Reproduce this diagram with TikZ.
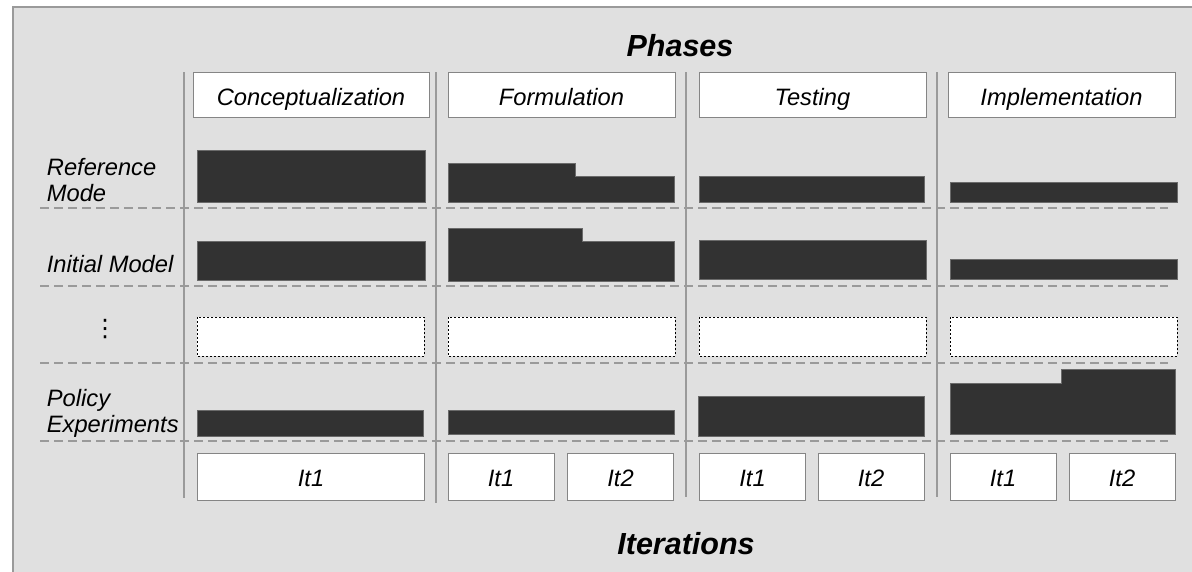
\documentclass[tikz,border=0pt]{standalone}
\usepackage{fontspec}
\setmainfont{Liberation Sans}
\newfontfamily\symfont{DejaVu Sans}
\definecolor{bg}{HTML}{E0E0E0}
\definecolor{frame}{HTML}{9A9A9A}
\definecolor{sep}{HTML}{9A9A9A}
\definecolor{bar}{HTML}{323232}
\definecolor{barline}{HTML}{6A6A6A}
\definecolor{boxline}{HTML}{858585}
\tikzset{
  lbl/.style={font=\fontsize{23.7}{26.7}\selectfont\itshape, inner sep=0pt, anchor=base west, align=left},
  title/.style={font=\fontsize{30.5}{34}\selectfont\bfseries\itshape, inner sep=0pt, anchor=base},
  hbox/.style={draw=boxline, fill=white, line width=1pt, inner sep=0pt, font=\fontsize{23.7}{26.7}\selectfont\itshape},
  hdrbox/.style={hbox, minimum height=45pt, text height=21pt, text depth=0pt},
  itbox/.style={hbox, minimum height=47pt, text height=19pt, text depth=0pt},
  dotbox/.style={draw=black, fill=white, line width=0.9pt, dash pattern=on 2pt off 2pt},
  barshape/.style={fill=bar, draw=barline, line width=0.8pt},
  rowline/.style={draw=sep, line width=2pt, dash pattern=on 9pt off 5pt},
  colsep/.style={draw=sep, line width=2pt}
}
\begin{document}
\begin{tikzpicture}[x=1pt,y=-1pt]
\useasboundingbox (0,0) rectangle (1192,571);
\clip (0,0) rectangle (1192,571);
% background frame
\fill[bg] (13,7) rectangle (1210,590);
\draw[frame, line width=1.5pt] (1210,7) -- (13,7) -- (13,590);

% titles
\node[title] (phases) at (680,56.7) {Phases};
\node[title] (iters) at (686,554) {Iterations};

% column separators
\draw[colsep] (184.3,72) -- (184.3,498);
\draw[colsep] (435.7,72) -- (435.7,503);
\draw[colsep] (686,72) -- (686,497);
\draw[colsep] (937,72) -- (937,497);

% row dashed lines
\foreach \yy in {208,286,363,440.5}
  \draw[rowline] (40,\yy) -- (1168,\yy);

% header boxes
\node[hdrbox, minimum width=236pt] (hc) at (311,94.5) {Conceptualization};
\node[hdrbox, minimum width=227pt] (hf) at (561.5,94.5) {Formulation};
\node[hdrbox, minimum width=227pt] (ht) at (812.5,94.5) {Testing};
\node[hdrbox, minimum width=227pt] (hi) at (1061.5,94.5) {Implementation};

% row labels
\node[lbl] (lref) at (46.7,175) {Reference};
\node[lbl] (lmode) at (46.7,201.7) {Mode};
\node[lbl] (linit) at (46.7,272.7) {Initial Model};
\node[inner sep=0pt, font=\fontsize{24}{26}\symfont] (ldots) at (105,329) {⋮};
\node[lbl] (lpol) at (46.7,406) {Policy};
\node[lbl] (lexp) at (46.7,432) {Experiments};

% row 1: reference mode
\draw[barshape] (197,150) rectangle (425,202.5);
\draw[barshape] (448,202.5) -- (448,163) -- (575.5,163) -- (575.5,176) -- (674,176) -- (674,202.5) -- cycle;
\draw[barshape] (699,176) rectangle (924,202);
\draw[barshape] (950,182.5) rectangle (1177,202.5);

% row 2: initial model
\draw[barshape] (197,241) rectangle (425,280.3);
\draw[barshape] (448,281) -- (448,228.3) -- (582,228.3) -- (582,241) -- (674,241) -- (674,281) -- cycle;
\draw[barshape] (699,240) rectangle (926,279);
\draw[barshape] (950,259) rectangle (1177,279);

% row 3: dotted placeholders
\draw[dotbox] (197,317.3) rectangle (424,356.3);
\draw[dotbox] (448,317.3) rectangle (675,356.3);
\draw[dotbox] (699,317.3) rectangle (926,356.3);
\draw[dotbox] (950,317.3) rectangle (1177,356.3);

% row 4: policy experiments
\draw[barshape] (197,410) rectangle (423,436);
\draw[barshape] (448,410) rectangle (674,434);
\draw[barshape] (698,396.7) rectangle (924,436);
\draw[barshape] (950,434) -- (950,383.7) -- (1061,383.7) -- (1061,369) -- (1175,369) -- (1175,434) -- cycle;

% iteration boxes
\node[itbox, minimum width=226.6pt] (ic1) at (311,476.5) {It1};
\node[itbox, minimum width=106pt] (if1) at (501,476.5) {It1};
\node[itbox, minimum width=106pt] (if2) at (620.5,476.5) {It2};
\node[itbox, minimum width=106pt] (it1) at (752.5,476.5) {It1};
\node[itbox, minimum width=106pt] (it2) at (871,476.5) {It2};
\node[itbox, minimum width=106pt] (ii1) at (1003,476.5) {It1};
\node[itbox, minimum width=106pt] (ii2) at (1122,476.5) {It2};
\end{tikzpicture}
\end{document}
